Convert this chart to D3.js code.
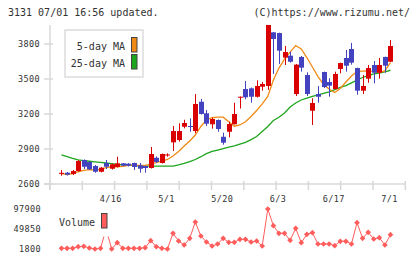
<html>
  <head>
    <script src="https://d3js.org/d3.v7.min.js"></script>
    <style>
      body { margin: 0; background: #fff; }
      text { font-family: "DejaVu Sans Mono", monospace; fill: #333; }
    </style>
  </head>
  <body>
    <script type="text/javascript">
      // ---- data (60 trading days) ----
      var xLabels = ["4/16", "5/1", "5/20", "6/3", "6/17", "7/1"];
      var xLabelIdx = [9, 19, 29, 39, 49, 59];

      var open  = [2689,2697,2686,2711,2806,2789,2754,2705,2780,2731,2746,2777,2774,2780,2760,2754,2737,2825,2780,2846,
                   2957,2977,3091,3097,3054,3305,3206,3112,3149,3005,3048,3112,3340,3414,3420,3348,3434,3440,3900,3894,
                   3683,3700,3371,3689,3534,3228,3371,3560,3474,3414,3586,3680,3757,3594,3400,3503,3620,3554,3689,3648];
      var high  = [2720,2703,2720,2806,2810,2795,2763,2745,2806,2776,2834,2780,2779,2783,2780,2757,2917,2836,2861,2863,
                   3097,3120,3151,3163,3371,3329,3234,3168,3153,3040,3134,3297,3350,3483,3427,3489,3474,3963,3903,3897,
                   3783,3734,3629,3697,3557,3335,3440,3563,3506,3563,3640,3749,3809,3597,3534,3620,3654,3680,3692,3834];
      var low   = [2671,2673,2677,2707,2729,2720,2697,2700,2729,2724,2741,2752,2750,2720,2697,2697,2733,2780,2776,2834,
                   2883,2963,3077,3048,3035,3196,3097,3074,3048,2937,3000,3110,3247,3326,3297,3341,3400,3406,3543,3629,
                   3620,3641,3354,3563,3354,3106,3297,3423,3348,3410,3549,3563,3623,3365,3371,3468,3463,3503,3554,3645];
      var close = [2696,2680,2711,2797,2748,2726,2705,2740,2748,2769,2777,2757,2757,2746,2731,2737,2857,2789,2857,2853,
                   3054,3054,3123,3091,3286,3200,3117,3157,3071,2954,3114,3200,3348,3343,3348,3440,3457,3963,3843,3743,
                   3731,3648,3623,3597,3371,3294,3348,3431,3443,3543,3637,3614,3640,3400,3440,3594,3554,3620,3614,3783];

      var ma5  = [2690,2680,2688,2705,2716,2724,2720,2726,2741,2746,2746,2752,2759,2759,2759,2759,2771,2783,2797,2810,
                  2840,2879,2926,2969,3020,3093,3149,3168,3173,3173,3134,3095,3106,3134,3179,3230,3286,3350,3491,3594,
                  3671,3731,3787,3757,3684,3603,3521,3453,3414,3384,3419,3474,3526,3564,3567,3569,3564,3556,3569,3640];
      var ma25 = [2849,2834,2819,2807,2800,2795,2790,2786,2780,2774,2769,2765,2763,2759,2754,2754,2754,2754,2754,2754,
                  2754,2763,2776,2791,2810,2834,2860,2879,2891,2904,2917,2926,2941,2957,2981,3007,3050,3093,3144,3172,
                  3209,3260,3294,3320,3337,3352,3363,3377,3390,3409,3428,3444,3467,3491,3513,3528,3543,3551,3562,3575];

      var volume = [3480,3480,3480,7330,8290,4200,1800,3480,50000,1800,16940,3480,3480,3480,3480,4920,21740,7330,3480,1800,
                    39520,21020,11410,27510,66670,33030,18620,9010,13810,27510,17900,17900,25100,25100,18620,21020,9010,97900,57780,39520,
                    39520,22700,51530,16940,37120,40960,13810,13810,13810,9730,20300,20300,13810,64990,27510,41920,25830,28950,11410,36160];

      var priceTicks = [2600, 2900, 3200, 3500, 3800];
      var volTicks = [1800, 49850, 97900];

      var width = 420;
      var height = 259;
      var axisColor = "#d8d8d8";
      var upColor = "#d90000";
      var downColor = "#4343c0";
      var volColor = "#ff5c5c";

      var svg = d3.select("body").append("svg")
        .attr("width", width)
        .attr("height", height);

      // scales
      var x = d3.scaleLinear().domain([-2.06, 61.66]).range([50, 405.3]);
      var y = d3.scaleLinear().domain([2600, 3800]).range([184, 44]);
      var yv = d3.scaleLinear().domain([1800, 97900]).range([249, 209]);

      // header
      svg.append("text").attr("x", 8).attr("y", 16).attr("font-size", "10px")
        .text("3131 07/01 16:56 updated.");
      svg.append("text").attr("x", 410).attr("y", 16).attr("font-size", "10px")
        .attr("text-anchor", "end").text("(C)https://www.rizumu.net/");

      // axes
      var axes = svg.append("g").attr("stroke", axisColor).attr("stroke-width", 1.5);
      axes.append("line").attr("x1", 50).attr("x2", 50).attr("y1", 25).attr("y2", 190);
      axes.append("line").attr("x1", 44).attr("x2", 405.3).attr("y1", y(2600)).attr("y2", y(2600));
      priceTicks.forEach(function (t) {
        axes.append("line").attr("x1", 44).attr("x2", 53).attr("y1", y(t)).attr("y2", y(t));
      });
      var xTicks = d3.range(12).map(function (k) { return -2.06 + k * 63.72 / 11; });
      xTicks.forEach(function (t) {
        axes.append("line").attr("x1", x(t)).attr("x2", x(t)).attr("y1", 181).attr("y2", 190);
      });

      // tick labels
      priceTicks.forEach(function (t) {
        svg.append("text").attr("x", 40).attr("y", y(t) + 3).attr("font-size", "8.5px")
          .attr("text-anchor", "end").attr("letter-spacing", "0.4px").text(t);
      });
      xLabels.forEach(function (l, k) {
        svg.append("text").attr("x", x(xLabelIdx[k]) - 1).attr("y", 201.5).attr("font-size", "8.5px")
          .attr("text-anchor", "middle").attr("letter-spacing", "0.4px").text(l);
      });
      volTicks.forEach(function (t) {
        svg.append("text").attr("x", 41).attr("y", yv(t) + 3).attr("font-size", "8.5px")
          .attr("text-anchor", "end").attr("letter-spacing", "0.4px").text(t);
      });

      // moving averages
      var maLine = d3.line()
        .x(function (d, i) { return x(i); })
        .y(function (d) { return y(d); });
      svg.append("path").datum(ma25).attr("fill", "none").attr("stroke", "#1ea51e")
        .attr("stroke-width", 1.3).attr("d", maLine);
      svg.append("path").datum(ma5).attr("fill", "none").attr("stroke", "#f08a16")
        .attr("stroke-width", 1.3).attr("d", maLine);

      // candles
      var candles = svg.append("g");
      open.forEach(function (o, i) {
        var c = close[i];
        var col = c >= o ? upColor : downColor;
        var cx = Math.round(x(i)) + 0.5;
        candles.append("line")
          .attr("x1", cx).attr("x2", cx)
          .attr("y1", y(high[i])).attr("y2", y(low[i]))
          .attr("stroke", col).attr("stroke-width", 1);
        var top = y(Math.max(o, c));
        var h = Math.max(1, Math.abs(y(o) - y(c)));
        candles.append("rect")
          .attr("x", cx - 2.5).attr("y", top)
          .attr("width", 5).attr("height", h)
          .attr("fill", col);
      });

      // volume
      var volLine = d3.line()
        .x(function (d, i) { return x(i); })
        .y(function (d) { return yv(d); });
      svg.append("path").datum(volume).attr("fill", "none").attr("stroke", volColor)
        .attr("stroke-width", 1).attr("d", volLine);
      svg.append("g").selectAll("path.pt").data(volume).enter().append("path")
        .attr("class", "pt")
        .attr("d", d3.symbol(d3.symbolSquare, 16))
        .attr("fill", volColor)
        .attr("transform", function (d, i) { return "translate(" + x(i) + "," + yv(d) + ") rotate(45)"; });

      // legends
      var leg = svg.append("g");
      leg.append("rect").attr("x", 65).attr("y", 30).attr("width", 78).attr("height", 47)
        .attr("fill", "white").attr("stroke", "#dcdcdc").attr("stroke-width", 1.5);
      leg.append("text").attr("x", 125).attr("y", 49.5).attr("font-size", "10px")
        .attr("text-anchor", "end").text("5-day MA");
      leg.append("text").attr("x", 125).attr("y", 67).attr("font-size", "10px")
        .attr("text-anchor", "end").text("25-day MA");
      leg.append("rect").attr("x", 131.5).attr("y", 37.5).attr("width", 5.5).attr("height", 14.5)
        .attr("fill", "#f08a16").attr("stroke", "#444");
      leg.append("rect").attr("x", 131.5).attr("y", 54.5).attr("width", 5.5).attr("height", 14.5)
        .attr("fill", "#1ea51e").attr("stroke", "#444");

      var vleg = svg.append("g");
      vleg.append("rect").attr("x", 55).attr("y", 210).attr("width", 56).attr("height", 26.5)
        .attr("fill", "white");
      vleg.append("text").attr("x", 59).attr("y", 226).attr("font-size", "10px").text("Volume");
      vleg.append("rect").attr("x", 101.5).attr("y", 213.5).attr("width", 5.5).attr("height", 14.5)
        .attr("fill", volColor).attr("stroke", "#444");
    </script>
  </body>
</html>
